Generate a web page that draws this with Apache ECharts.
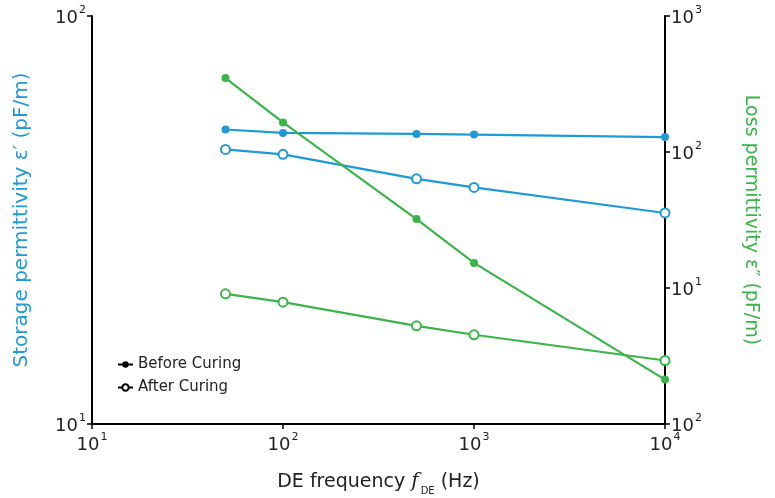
<!DOCTYPE html>
<html>
<head>
<meta charset="utf-8">
<script src="https://cdn.jsdelivr.net/npm/echarts@6/dist/echarts.min.js"></script>
<style>
  html, body { margin: 0; padding: 0; background: #fff; }
  #chart { width: 775px; height: 498px; }
</style>
</head>
<body>
<div id="chart"></div>
<script>
// frequencies (Hz)
const freq = [50, 100, 500, 1000, 10000];
// storage permittivity (left axis, pF/m)
const storageBefore = [52.7, 51.7, 51.4, 51.2, 50.5];
const storageAfter = [47.1, 45.8, 39.9, 38.0, 32.9];
// loss permittivity (right axis, pF/m)
const lossBefore = [350, 165, 32.1, 15.3, 2.12];
const lossAfter = [9.06, 7.87, 5.27, 4.53, 2.93];
// right axis tick labels as printed (bottom one reads 10^2 in the source)
const rightTickExp = { 1: "2", 10: "1", 100: "2", 1000: "3" };

const BLUE = "#1f9ad6";
const GREEN = "#3bb54a";
const FONT = "DejaVu Sans";

const pairs = (ys) => freq.map((f, i) => [f, ys[i]]);
const supRich = {
  b: { fontSize: 18, fontFamily: FONT, color: "#222", lineHeight: 22, verticalAlign: "bottom" },
  s: { fontSize: 11, fontFamily: FONT, color: "#222", lineHeight: 22, verticalAlign: "top", padding: [0, 0, 0, 1] },
};
const powLabel = (v) => "{b|10}{s|" + Math.round(Math.log10(v)) + "}";

const chart = echarts.init(document.getElementById("chart"));
chart.setOption({
  animation: false,
  grid: { left: 92, right: 110, top: 16, bottom: 74, outerBoundsMode: "none" },
  legend: {
    orient: "vertical",
    left: 112,
    top: 352,
    itemGap: 8,
    itemWidth: 15,
    itemHeight: 8,
    textStyle: { fontFamily: FONT, fontSize: 15, color: "#222" },
    data: ["Before Curing", "After Curing"],
  },
  xAxis: {
    type: "log",
    logBase: 10,
    min: 10,
    max: 10000,
    name: "{n|DE frequency }{i|f}{sub|DE}{n| (Hz)}",
    nameLocation: "middle",
    nameGap: 44,
    nameTextStyle: {
      rich: {
        n: { fontSize: 19, fontFamily: FONT, color: "#222", lineHeight: 24, verticalAlign: "bottom" },
        i: { fontSize: 20, fontFamily: "DejaVu Serif", fontStyle: "italic", color: "#222", lineHeight: 24, verticalAlign: "bottom", padding: [0, 2, 0, 0] },
        sub: { fontSize: 10, fontFamily: FONT, color: "#222", lineHeight: 24, verticalAlign: "bottom", padding: [0, 0, -4, 0] },
      },
    },
    axisLine: { lineStyle: { color: "#000", width: 2 } },
    axisTick: { length: 5, lineStyle: { color: "#000", width: 1.5 } },
    splitLine: { show: false },
    minorTick: { show: false },
    axisLabel: { margin: 8, formatter: powLabel, rich: supRich },
  },
  yAxis: [
    {
      type: "log",
      logBase: 10,
      min: 10,
      max: 100,
      position: "left",
      name: "Storage permittivity \u03b5\u2032 (pF/m)",
      nameLocation: "middle",
      nameGap: 60,
      nameRotate: 90,
      nameTextStyle: { color: BLUE, fontSize: 20, fontFamily: FONT },
      axisLine: { show: true, lineStyle: { color: "#000", width: 2 } },
      axisTick: { show: true, length: 5, lineStyle: { color: "#000", width: 1.5 } },
      splitLine: { show: false },
      axisLabel: { margin: 6, formatter: powLabel, rich: supRich },
    },
    {
      type: "log",
      logBase: 10,
      min: 1,
      max: 1000,
      position: "right",
      name: "Loss permittivity \u03b5\u2033 (pF/m)",
      nameLocation: "middle",
      nameGap: 76,
      nameRotate: -90,
      nameTextStyle: { color: GREEN, fontSize: 19, fontFamily: FONT },
      axisLine: { show: true, lineStyle: { color: "#000", width: 2 } },
      axisTick: { show: true, length: 5, lineStyle: { color: "#000", width: 1.5 } },
      splitLine: { show: false },
      axisLabel: {
        margin: 6,
        formatter: (v) => "{b|10}{s|" + rightTickExp[Math.round(v)] + "}",
        rich: supRich,
      },
    },
  ],
  series: [
    {
      name: "Storage before",
      type: "line",
      yAxisIndex: 0,
      data: pairs(storageBefore),
      symbol: "circle",
      symbolSize: 8,
      lineStyle: { color: BLUE, width: 2.2 },
      itemStyle: { color: BLUE },
    },
    {
      name: "Storage after",
      type: "line",
      yAxisIndex: 0,
      data: pairs(storageAfter),
      symbol: "circle",
      symbolSize: 9,
      lineStyle: { color: BLUE, width: 2.2 },
      itemStyle: { color: "#fff", borderColor: BLUE, borderWidth: 2 },
    },
    {
      name: "Loss before",
      type: "line",
      yAxisIndex: 1,
      data: pairs(lossBefore),
      symbol: "circle",
      symbolSize: 8,
      lineStyle: { color: GREEN, width: 2.2 },
      itemStyle: { color: GREEN },
    },
    {
      name: "Loss after",
      type: "line",
      yAxisIndex: 1,
      data: pairs(lossAfter),
      symbol: "circle",
      symbolSize: 9,
      lineStyle: { color: GREEN, width: 2.2 },
      itemStyle: { color: "#fff", borderColor: GREEN, borderWidth: 2 },
    },
    // legend-only entries (black markers)
    {
      name: "Before Curing",
      type: "line",
      data: [],
      symbol: "circle",
      symbolSize: 7,
      lineStyle: { color: "#000", width: 2 },
      itemStyle: { color: "#000" },
    },
    {
      name: "After Curing",
      type: "line",
      data: [],
      symbol: "circle",
      symbolSize: 8,
      lineStyle: { color: "#000", width: 2 },
      itemStyle: { color: "#fff", borderColor: "#000", borderWidth: 2 },
    },
  ],
});
</script>
</body>
</html>
